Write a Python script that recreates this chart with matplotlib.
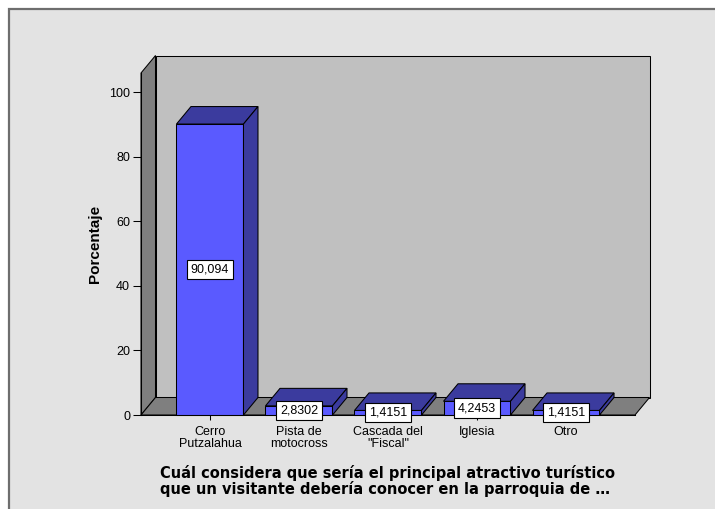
import matplotlib.pyplot as plt
from matplotlib.patches import Polygon, Rectangle

# data
categories = ["Cerro\nPutzalahua", "Pista de\nmotocross", "Cascada del\n\"Fiscal\"", "Iglesia", "Otro"]
percentages = [90.094, 2.8302, 1.4151, 4.2453, 1.4151]
value_labels = ["90,094", "2,8302", "1,4151", "4,2453", "1,4151"]
y_ticks = [0, 20, 40, 60, 80, 100]

y_label = "Porcentaje"
x_label = ("Cuál considera que sería el principal atractivo turístico\n"
           "que un visitante debería conocer en la parroquia de \u2026")

# styling
W, H = 715, 509
bg = "#e3e3e3"
wall_back = "#c0c0c0"
wall_side = "#7f7f7f"
bar_front = "#5a5aff"
bar_dark = "#3b3b9e"
edge = "black"
lw = 0.75

fig = plt.figure(figsize=(W / 100, H / 100), dpi=100)
fig.patch.set_facecolor("white")
fig.add_artist(Rectangle((9 / W, -0.1), 1.2, (H - 9) / H + 0.1, transform=fig.transFigure,
                         facecolor=bg, edgecolor="#6e6e6e", linewidth=1.6, zorder=0))

ax = fig.add_axes([141 / W, 94 / H, 494 / W, 342 / H])
ax.set_facecolor("none")
x0, x1 = -0.775, 4.775
ymax = 105.9
ax.set_xlim(x0, x1)
ax.set_ylim(0, ymax)

# depth of the pseudo 3d walls and bars, in data units
dx = 14.5 / 89
dy = 17.5 / 3.23


def poly(pts, color, z):
    ax.add_patch(Polygon(pts, closed=True, facecolor=color, edgecolor=edge,
                         linewidth=lw, zorder=z, clip_on=False, joinstyle="miter"))


# walls and floor
poly([(x0 + dx, dy), (x1 + dx, dy), (x1 + dx, ymax + dy), (x0 + dx, ymax + dy)], wall_back, 1)
poly([(x0, 0), (x0 + dx, dy), (x0 + dx, ymax + dy), (x0, ymax)], wall_side, 1)
poly([(x0, 0), (x1, 0), (x1 + dx, dy), (x0 + dx, dy)], wall_side, 1)

# bars
bw = 67 / 89
for i, v in enumerate(percentages):
    l, r = i - bw / 2, i + bw / 2
    poly([(l, 0), (r, 0), (r, v), (l, v)], bar_front, 3)
    poly([(l, v), (r, v), (r + dx, v + dy), (l + dx, v + dy)], bar_dark, 3)
    poly([(r, 0), (r + dx, dy), (r + dx, v + dy), (r, v)], bar_dark, 3)
    ax.text(i, v / 2, value_labels[i], ha="center", va="center", fontsize=9,
            family="Liberation Sans", zorder=5, clip_on=False,
            bbox=dict(boxstyle="square,pad=0.3", facecolor="white", edgecolor="black", linewidth=0.8))

# axes
for s in ["top", "right"]:
    ax.spines[s].set_visible(False)
for s in ["left", "bottom"]:
    ax.spines[s].set_linewidth(lw)
    ax.spines[s].set_zorder(4)
ax.set_yticks(y_ticks)
ax.set_xticks(range(len(categories)))
ax.set_xticklabels(categories, linespacing=1.0)
ax.tick_params(axis="y", direction="out", length=5.8, width=lw, labelsize=9, pad=2)
ax.tick_params(axis="x", direction="out", length=3.6, width=lw, labelsize=9, pad=4.5)
for t in ax.get_xticklabels() + ax.get_yticklabels():
    t.set_family("Liberation Sans")

ax.set_ylabel(y_label, fontsize=11, fontweight="bold", family="Liberation Sans")
ax.yaxis.set_label_coords(-0.079, 0.5)
ax.text(0.5, -0.193, x_label, transform=ax.transAxes, ha="center", va="center",
        multialignment="left", fontsize=10.5, fontweight="bold", family="DejaVu Sans",
        linespacing=0.95)

fig.savefig("out.png", dpi=100)
